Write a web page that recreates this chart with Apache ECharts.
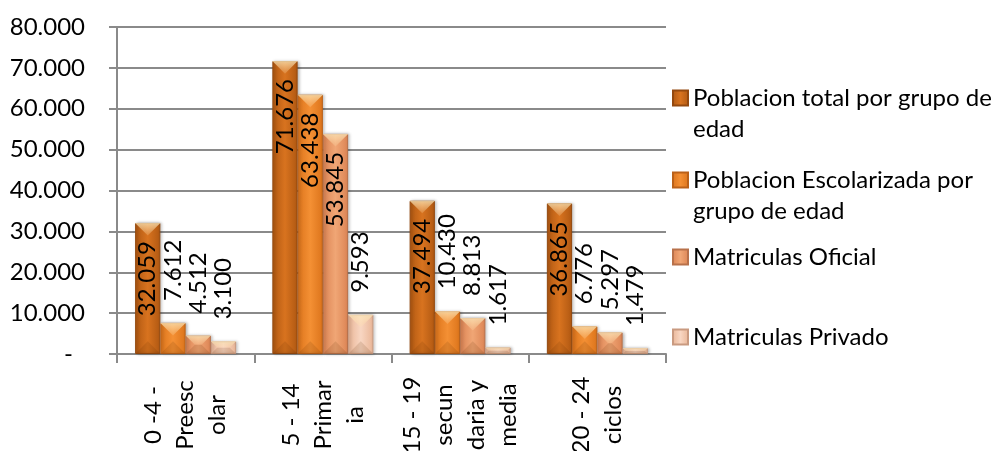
<!DOCTYPE html>
<html>
<head>
<meta charset="utf-8">
<script src="https://cdn.jsdelivr.net/npm/echarts@6/dist/echarts.min.js"></script>
<style>
  html, body { margin: 0; padding: 0; background: #ffffff; }
  #chart { width: 1003px; height: 451px; }
</style>
</head>
<body>
<div id="chart"></div>
<script>
// Age groups / school levels (line breaks as printed under the axis)
const categories = [
  '0 -4 -\nPreesc\nolar',
  '5 - 14\nPrimar\nia',
  '15 - 19\nsecun\ndaria y\nmedia',
  '20 - 24\nciclos'
];

const seriesNames = [
  'Poblacion total por grupo de edad',
  'Poblacion Escolarizada por grupo de edad',
  'Matriculas Oficial',
  'Matriculas Privado'
];

// Legend text as it wraps in the key
const legendLabels = [
  'Poblacion total por grupo de\nedad',
  'Poblacion Escolarizada por\ngrupo de edad',
  'Matriculas Oficial',
  'Matriculas Privado'
];

// Values per group
const poblacionTotal        = [32059, 71676, 37494, 36865];
const poblacionEscolarizada = [7612, 63438, 10430, 6776];
const matriculasOficial     = [4512, 53845, 8813, 5297];
const matriculasPrivado     = [3100, 9593, 1617, 1479];

// Value axis ticks
const yMin = 0;
const yMax = 80000;
const yStep = 10000;

const seriesValues = [poblacionTotal, poblacionEscolarizada, matriculasOficial, matriculasPrivado];

// Bar shading: [edge, centre, border]
const shades = [
  ['#b05812', '#d8731f', '#94490f'],
  ['#dc741b', '#f49034', '#bb6118'],
  ['#dc8454', '#f0a675', '#b8714a'],
  ['#e9b596', '#f8d6c2', '#c99a80']
];

const FONT = 'Lato, "Open Sans", sans-serif';
const FS = 24;
const GRID_COLOR = '#8a8a8a';
const CATEGORY_GAP = 0.264;

// 71676 -> "71.676"
function fmt(v) {
  return (v / 1000).toFixed(3);
}

// Labels that fit go inside the top of the bar, the rest sit above it
const INSIDE_MIN = 20000;

function barColor(s) {
  return {
    type: 'linear', x: 0, y: 0, x2: 1, y2: 0,
    colorStops: [
      { offset: 0, color: s[0] },
      { offset: 0.5, color: s[1] },
      { offset: 1, color: s[0] }
    ]
  };
}

const barSeries = seriesNames.map((name, i) => ({
  name: name,
  type: 'bar',
  barGap: '0%',
  barCategoryGap: (CATEGORY_GAP * 100) + '%',
  itemStyle: {
    color: barColor(shades[i]),
    borderColor: shades[i][2],
    borderWidth: 1,
    shadowColor: 'rgba(0,0,0,0.25)',
    shadowBlur: 3,
    shadowOffsetX: 1.5,
    shadowOffsetY: 0
  },
  emphasis: { disabled: true },
  label: {
    show: true,
    position: 'top',
    distance: 22,
    rotate: 90,
    align: 'left',
    verticalAlign: 'middle',
    fontFamily: FONT,
    fontSize: FS,
    color: '#000',
    formatter: p => fmt(p.value)
  },
  data: seriesValues[i].map(v => v >= INSIDE_MIN
    ? { value: v, label: { position: 'insideTop', distance: 18, align: 'right' } }
    : v)
}));

// Bevelled faces laid over every bar: [category, series, value]
const bevelData = [];
seriesValues.forEach((vals, s) => vals.forEach((v, c) => bevelData.push([c, s, v])));

function renderBevel(params, api) {
  const c = api.value(0);
  const s = api.value(1);
  const v = api.value(2);
  const base = api.coord([c, 0]);
  const top = api.coord([c, v])[1];
  const band = api.size([1, 0])[0];
  const n = seriesNames.length;
  const w = band * (1 - CATEGORY_GAP) / n;
  const x0 = base[0] - w * n / 2 + s * w;
  const x1 = x0 + w;
  const y0 = top;
  const y1 = base[1];
  const h = y1 - y0;
  const b = Math.min(w / 2, h / 2);
  return {
    type: 'group',
    children: [
      {
        type: 'polygon',
        shape: { points: [[x0, y0], [x1, y0], [x1 - b, y0 + b], [x0 + b, y0 + b]] },
        style: {
          fill: {
            type: 'linear', x: 0, y: 0, x2: 0, y2: 1,
            colorStops: [
              { offset: 0, color: 'rgba(255,236,190,0.75)' },
              { offset: 1, color: 'rgba(255,220,170,0.2)' }
            ]
          }
        },
        silent: true
      },
      {
        type: 'polygon',
        shape: { points: [[x0, y1], [x1, y1], [x1 - b, y1 - b], [x0 + b, y1 - b]] },
        style: { fill: 'rgba(90,40,0,0.14)' },
        silent: true
      }
    ]
  };
}

const bevelSeries = {
  name: 'bevel',
  type: 'custom',
  renderItem: renderBevel,
  data: bevelData,
  encode: { x: 0, y: 2 },
  z: 3,
  silent: true,
  tooltip: { show: false }
};

// One key entry per block so each sits at its own height
const legendTops = [51.5, 133.5, 241.5, 321.5];
const legends = seriesNames.map((name, i) => {
  const twoLines = legendLabels[i].indexOf('\n') >= 0;
  // a blank leading line keeps the marker level with the first line of text
  const text = twoLines ? ' \n' + legendLabels[i] : legendLabels[i];
  return {
    data: [name],
    orient: 'vertical',
    left: 672,
    top: legendTops[i],
    padding: 0,
    icon: 'rect',
    itemWidth: 15,
    itemHeight: 15,
    selectedMode: false,
    formatter: () => text,
    textStyle: {
      fontFamily: FONT,
      fontSize: FS,
      color: '#000',
      lineHeight: 31
    }
  };
});

const chart = echarts.init(document.getElementById('chart'), null, { renderer: 'canvas' });

chart.setOption({
  backgroundColor: '#ffffff',
  animation: false,
  grid: {
    left: 117,
    right: 337,
    top: 27,
    bottom: 97,
    containLabel: false,
    outerBoundsMode: 'none'
  },
  legend: legends,
  xAxis: {
    type: 'category',
    data: categories,
    axisLine: { show: true, lineStyle: { color: GRID_COLOR, width: 2 } },
    axisTick: { show: true, length: 9, interval: 0, lineStyle: { color: GRID_COLOR, width: 2 } },
    axisLabel: {
      interval: 0,
      rotate: 90,
      align: 'center',
      verticalAlign: 'middle',
      margin: 61,
      lineHeight: 32,
      fontFamily: FONT,
      fontSize: FS,
      color: '#000'
    },
    splitLine: { show: false }
  },
  yAxis: {
    type: 'value',
    min: yMin,
    max: yMax,
    interval: yStep,
    axisLine: { show: true, lineStyle: { color: GRID_COLOR, width: 2 } },
    axisTick: { show: true, length: 8, lineStyle: { color: GRID_COLOR, width: 2 } },
    splitLine: { show: true, lineStyle: { color: GRID_COLOR, width: 2 } },
    axisLabel: {
      margin: 32,
      fontFamily: FONT,
      fontSize: FS,
      color: '#000',
      formatter: v => v === 0 ? '{z|-}' : fmt(v),
      rich: {
        z: { fontFamily: FONT, fontSize: FS, color: '#000', padding: [0, 12, 0, 0] }
      }
    }
  },
  series: barSeries.concat([bevelSeries])
});
</script>
</body>
</html>
